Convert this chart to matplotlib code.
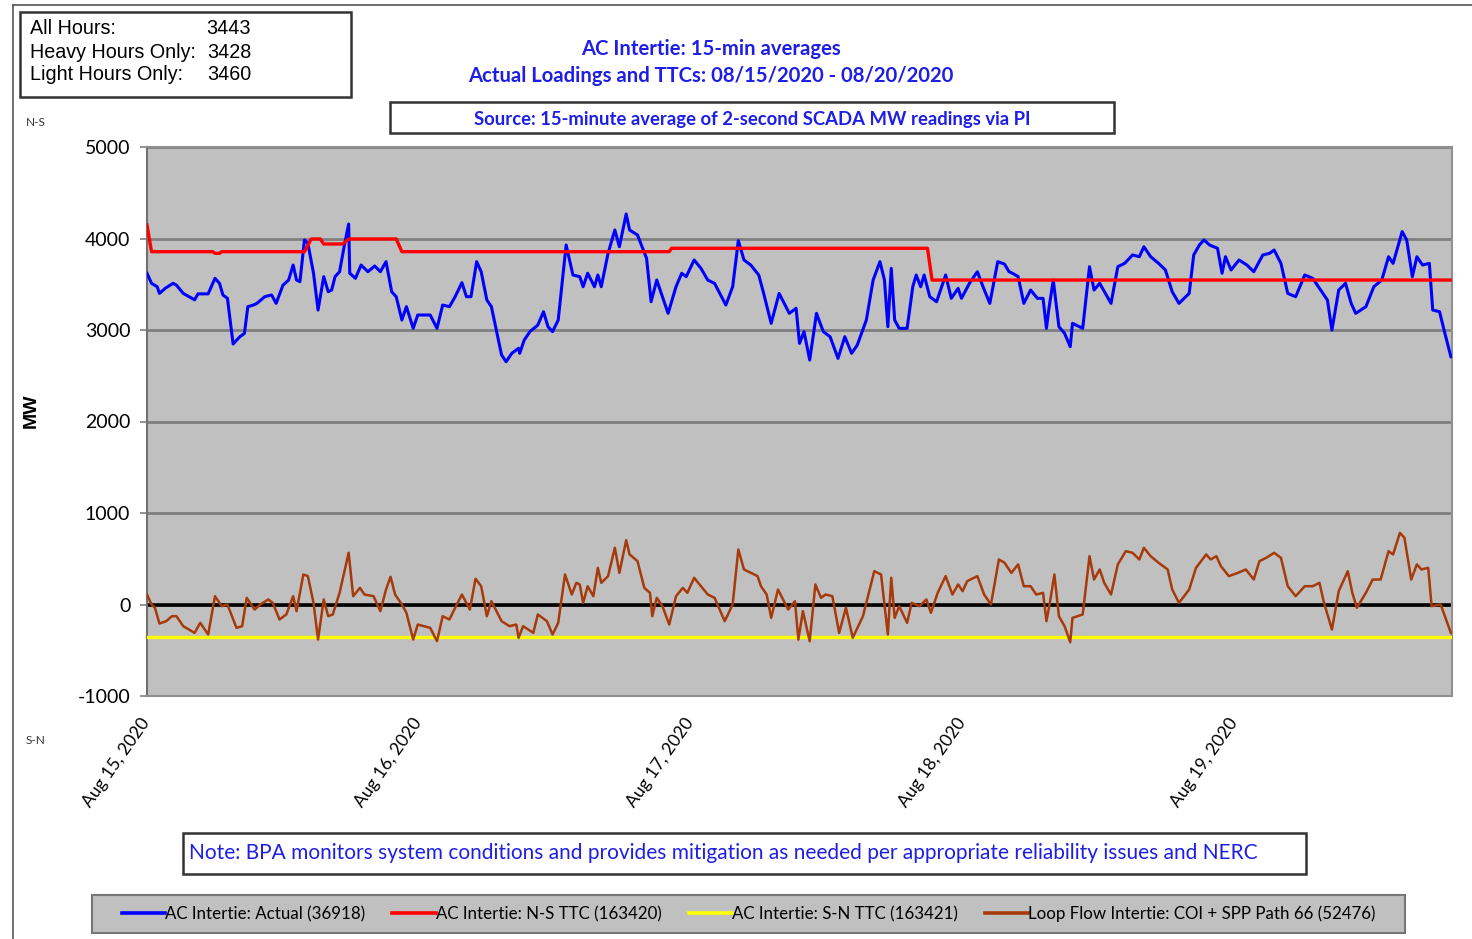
import matplotlib
matplotlib.use("Agg")
import matplotlib.pyplot as plt
import matplotlib.transforms as mtransforms
from matplotlib.lines import Line2D
from matplotlib.patches import Rectangle
import numpy as np

W, H = 1472, 939

# hours since Aug 15 2020 00:00
actual_hours = [0.0, 0.4, 0.9, 1.1, 1.6, 2.3, 2.6, 3.2, 4.2, 4.5, 5.4, 6.0, 6.4, 6.7, 7.1, 7.6, 8.2, 8.6, 8.9, 9.4,
                9.7, 10.4, 11.0, 11.4, 12.0, 12.5, 12.9, 13.2, 13.5, 13.9, 14.2, 14.7, 15.1, 15.6, 16.0, 16.3, 16.6,
                17.0, 17.4, 17.8, 17.9, 18.4, 18.9, 19.5, 20.1, 20.6, 21.1, 21.6, 22.0, 22.5, 22.9, 23.5, 23.9, 25.0,
                25.6, 26.1, 26.7, 27.2, 27.8, 28.2, 28.6, 29.1, 29.5, 30.0, 30.4, 31.3, 31.7, 32.2, 32.8, 32.9, 33.3,
                33.8, 34.5, 35.0, 35.4, 35.8, 36.3, 37.0, 37.6, 38.2, 38.5, 38.9, 39.5, 39.8, 40.1, 40.7, 41.3, 41.7,
                42.3, 42.6, 43.3, 44.1, 44.5, 45.0, 46.0, 46.7, 47.2, 47.6, 48.3, 48.9, 49.5, 50.1, 51.1, 51.7, 52.2,
                52.7, 53.3, 54.0, 54.4, 55.1, 55.8, 56.7, 57.3, 57.6, 58.0, 58.5, 59.1, 59.7, 60.3, 61.0, 61.6, 62.2,
                62.7, 63.5, 64.1, 64.7, 65.1, 65.4, 65.7, 66.0, 66.4, 67.1, 67.6, 67.9, 68.3, 68.6, 69.1, 69.7, 70.5,
                71.0, 71.6, 71.9, 72.6, 73.3, 73.8, 74.4, 75.1, 75.7, 76.1, 76.4, 76.9, 77.4, 78.0, 78.6, 79.1, 79.4,
                79.6, 80.0, 80.5, 81.0, 81.5, 81.7, 82.6, 83.2, 83.6, 84.1, 85.1, 85.7, 86.3, 87.0, 87.6, 88.0, 88.6,
                89.3, 89.9, 90.5, 91.1, 92.0, 92.4, 92.9, 93.3, 93.8, 94.5, 94.9, 95.2, 95.7, 96.4, 97.1, 97.7, 98.5,
                99.1, 99.5, 100.1, 100.7, 101.4, 102.2, 102.9, 103.6, 104.2, 104.6, 105.2, 105.8, 106.3, 106.7, 107.6,
                108.3, 109.0, 109.6, 110.0, 110.8, 111.2, 111.7, 112.1, 112.6, 113.2, 113.5, 114.1, 114.5, 115.1]
actual_mw = [3620, 3510, 3473, 3400, 3455, 3510, 3490, 3400, 3330, 3395, 3395, 3565, 3510, 3383, 3346, 2847, 2927, 2963,
             3255, 3273, 3291, 3364, 3383, 3291, 3490, 3546, 3710, 3546, 3528, 3984, 3947, 3620, 3218, 3583, 3418, 3437,
             3583, 3637, 3910, 4158, 3620, 3565, 3710, 3637, 3700, 3637, 3747, 3418, 3364, 3109, 3255, 3018, 3164, 3164,
             3018, 3273, 3255, 3364, 3517, 3364, 3364, 3747, 3637, 3328, 3255, 2727, 2653, 2745, 2800, 2745, 2890, 2982,
             3054, 3200, 3036, 2982, 3109, 3929, 3601, 3583, 3473, 3620, 3473, 3601, 3473, 3838, 4093, 3910, 4268, 4093,
             4038, 3783, 3309, 3546, 3182, 3473, 3620, 3583, 3765, 3674, 3546, 3510, 3273, 3473, 3976, 3765, 3710, 3601,
             3418, 3073, 3400, 3182, 3237, 2854, 2982, 2672, 3182, 2982, 2927, 2690, 2927, 2745, 2836, 3109, 3546, 3747,
             3546, 3036, 3674, 3109, 3018, 3018, 3473, 3601, 3473, 3601, 3364, 3309, 3601, 3346, 3455, 3346, 3510, 3637,
             3473, 3291, 3747, 3720, 3637, 3620, 3583, 3291, 3437, 3346, 3346, 3018, 3218, 3546, 3036, 2963, 2818, 3073,
             3018, 3692, 3437, 3510, 3291, 3692, 3728, 3820, 3801, 3910, 3801, 3728, 3656, 3418, 3291, 3400, 3820, 3929,
             3984, 3929, 3893, 3620, 3801, 3656, 3765, 3710, 3637, 3820, 3838, 3874, 3728, 3400, 3364, 3601, 3565, 3437,
             3328, 2999, 3437, 3510, 3291, 3182, 3255, 3473, 3546, 3801, 3728, 4075, 3984, 3583, 3801, 3710, 3728, 3218,
             3200, 2999, 2709]

ns_ttc_hours = [0.0, 0.4, 5.8, 6.0, 6.4, 6.6, 13.9, 14.5, 15.3, 15.6, 17.3, 17.8, 22.0, 22.5, 46.1, 46.3, 68.9, 69.3, 115.1]
ns_ttc_mw = [4147, 3856, 3856, 3838, 3838, 3856, 3856, 3995, 3995, 3940, 3940, 3995, 3995, 3856, 3856, 3893, 3893, 3546, 3546]

sn_ttc_hours = [0.0, 115.1]
sn_ttc_mw = [-350, -350]

loop_hours = [0.0, 0.4, 0.7, 1.1, 1.7, 2.2, 2.6, 3.2, 4.2, 4.7, 5.4, 6.0, 6.6, 7.1, 7.9, 8.4, 8.8, 9.5, 10.0, 10.7, 11.1,
              11.7, 12.3, 12.9, 13.2, 13.8, 14.2, 14.7, 15.1, 15.6, 16.0, 16.4, 17.0, 17.8, 18.2, 18.8, 19.2, 20.0, 20.6,
              21.1, 21.5, 21.9, 22.5, 22.9, 23.5, 23.9, 25.0, 25.6, 26.1, 26.7, 27.2, 27.8, 28.5, 29.0, 29.5, 30.0, 30.4,
              31.3, 32.0, 32.6, 32.8, 33.2, 34.1, 34.5, 35.3, 35.8, 36.3, 36.9, 37.5, 37.9, 38.2, 38.5, 38.9, 39.4, 39.8,
              40.1, 40.7, 41.3, 41.7, 42.3, 42.6, 43.3, 43.9, 44.4, 44.6, 45.0, 45.5, 46.1, 46.7, 47.3, 47.7, 48.3, 48.9,
              49.5, 50.1, 51.0, 51.7, 52.2, 52.7, 53.3, 53.9, 54.2, 54.7, 55.1, 55.7, 56.6, 57.2, 57.5, 57.9, 58.5, 59.0,
              59.5, 59.9, 60.5, 61.1, 61.7, 62.3, 63.2, 64.2, 64.8, 65.4, 65.7, 66.0, 66.4, 67.1, 67.5, 68.2, 68.8, 69.2,
              69.8, 70.5, 71.1, 71.6, 72.0, 72.4, 73.3, 73.9, 74.5, 75.2, 75.7, 76.3, 76.9, 77.4, 78.0, 78.5, 79.1, 79.4,
              79.7, 80.1, 80.5, 81.0, 81.5, 81.7, 82.6, 83.2, 83.6, 84.1, 84.5, 85.1, 85.7, 86.4, 87.0, 87.6, 88.0, 88.6,
              89.3, 90.1, 90.5, 91.1, 92.0, 92.6, 93.5, 93.9, 94.4, 94.8, 95.5, 96.3, 97.0, 97.7, 98.2, 98.8, 99.5, 100.1,
              100.7, 101.4, 102.2, 102.9, 103.5, 103.9, 104.6, 105.2, 106.0, 106.4, 106.8, 107.6, 108.2, 108.9, 109.6,
              110.0, 110.6, 111.0, 111.6, 112.1, 112.5, 113.1, 113.4, 114.2, 115.1]
loop_mw = [109, 0, -36, -208, -182, -128, -128, -237, -310, -200, -328, 91, -18, 0, -255, -237, 73, -55, 0, 55, 18,
           -164, -109, 91, -73, 328, 310, 18, -383, 55, -128, -109, 128, 565, 91, 182, 109, 91, -73, 164, 303, 109, 0,
           -91, -383, -219, -255, -401, -128, -164, -36, 109, -55, 281, 200, -128, 36, -182, -237, -219, -364, -237,
           -310, -109, -182, -328, -200, 328, 109, 237, 219, 18, 200, 91, 401, 237, 310, 620, 346, 703, 547, 474, 182,
           128, -128, 73, -18, -219, 91, 182, 128, 292, 200, 109, 73, -182, 0, 601, 383, 346, 310, 200, 109, -146, 164,
           -55, 36, -383, -73, -401, 219, 73, 109, 91, -310, -36, -364, -128, 364, 328, -328, 292, -146, -18, -200, 18,
           -18, 55, -91, 128, 310, 109, 219, 146, 255, 310, 109, 0, 492, 456, 346, 438, 200, 200, 109, 128, -182, 18,
           328, -128, -237, -412, -146, -109, 528, 273, 383, 237, 109, 438, 583, 565, 492, 620, 528, 456, 383, 164, 18,
           164, 401, 547, 492, 528, 419, 310, 346, 383, 273, 474, 510, 565, 510, 200, 91, 200, 200, 237, 18, -273, 146,
           364, 128, -36, 128, 273, 273, 583, 547, 783, 729, 273, 438, 383, 401, -18, 0, -310]

day_ticks = [0, 24, 48, 72, 96]
day_labels = ["Aug 15, 2020", "Aug 16, 2020", "Aug 17, 2020", "Aug 18, 2020", "Aug 19, 2020"]
y_ticks = [-1000, 0, 1000, 2000, 3000, 4000, 5000]

legend_labels = ["AC Intertie: Actual (36918)", "AC Intertie: N-S TTC (163420)",
                 "AC Intertie: S-N TTC (163421)", "Loop Flow Intertie: COI + SPP Path 66 (52476)"]
stat_labels = ["All Hours:", "Heavy Hours Only:", "Light Hours Only:"]
stat_values = ["3443", "3428", "3460"]

BLUE, RED, YELLOW, BROWN = "#0000FF", "#FF0000", "#FFFF00", "#A63A0A"
TXT_BLUE = "#1E1EE6"
CAL = ["Lato", "DejaVu Sans"]
ARIAL = ["Liberation Sans", "DejaVu Sans"]


def fx(px):
    return px / W


def fy(py):
    return 1 - py / H


fig = plt.figure(figsize=(W / 100, H / 100), dpi=100)
fig.patch.set_facecolor("white")

ax = fig.add_axes([fx(147), fy(696), fx(1452) - fx(147), fy(147) - fy(696)])
ax.set_facecolor("#C0C0C0")
ax.set_xlim(0, 115.2)
ax.set_ylim(-1000, 5000)
ax.set_yticks(y_ticks)
ax.set_yticklabels([str(v) for v in y_ticks], fontfamily=CAL, fontsize=14)
ax.set_xticks(day_ticks)
ax.set_xticklabels(day_labels, rotation=55, ha="right", va="top", fontfamily=CAL, fontsize=12.6)
ax.tick_params(axis="x", length=0, pad=14)
ax.tick_params(axis="y", length=5, width=1.2, color="#808080", direction="out", pad=7)
# nudge the slanted date labels a few pixels right, as in the original
shift = mtransforms.ScaledTranslation(6 / 100, 0, fig.dpi_scale_trans)
for lbl in ax.get_xticklabels():
    lbl.set_transform(lbl.get_transform() + shift)
ax.grid(axis="y", color="#7f7f7f", lw=2)
ax.set_axisbelow(True)
for side in ["top", "right", "bottom"]:
    ax.spines[side].set_color("#909090")
    ax.spines[side].set_linewidth(1.5)
ax.spines["left"].set_color("#707070")
ax.spines["left"].set_linewidth(1.5)

ax.axhline(0, color="black", lw=2.6, zorder=2)
ax.plot(sn_ttc_hours, sn_ttc_mw, color=YELLOW, lw=2.4, zorder=3)
ax.plot(loop_hours, loop_mw, color=BROWN, lw=1.8, zorder=4)
ax.plot(actual_hours, actual_mw, color=BLUE, lw=2.2, zorder=5)
ax.plot(ns_ttc_hours, ns_ttc_mw, color=RED, lw=2.4, zorder=6)

ax.set_ylabel("MW", fontfamily=ARIAL, fontsize=14, fontweight="bold")
ax.yaxis.set_label_coords((40 - 147) / 1305, 0.52)

# outer frame
fig.add_artist(Line2D([fx(13), fx(13)], [fy(5), fy(939)], color="#555555", lw=1.2))
fig.add_artist(Line2D([fx(13), fx(1472)], [fy(5), fy(5)], color="#555555", lw=1.2))

# stats box
fig.add_artist(Rectangle((fx(20), fy(97)), fx(351) - fx(20), fy(12) - fy(97), fill=False,
                         ec="#333333", lw=1.8))
for i, (lab, val) in enumerate(zip(stat_labels, stat_values)):
    yy = fy(29 + 23 * i)
    fig.text(fx(30), yy, lab, fontfamily=ARIAL, fontsize=14.2, va="center", ha="left")
    fig.text(fx(251), yy, val, fontfamily=ARIAL, fontsize=14.2, va="center", ha="right")

# titles
fig.text(fx(711), fy(49), "AC Intertie: 15-min averages", color=TXT_BLUE, fontfamily=CAL,
         fontsize=14.6, fontweight="bold", ha="center", va="center")
fig.text(fx(711), fy(76), "Actual Loadings and TTCs: 08/15/2020 - 08/20/2020", color=TXT_BLUE,
         fontfamily=CAL, fontsize=14.6, fontweight="bold", ha="center", va="center")
fig.add_artist(Rectangle((fx(390), fy(133)), fx(1114) - fx(390), fy(102) - fy(133), fill=False,
                         ec="#333333", lw=1.8))
fig.text(fx(752), fy(119), "Source: 15-minute average of 2-second SCADA MW readings via PI", color=TXT_BLUE,
         fontfamily=CAL, fontsize=13.3, fontweight="bold", ha="center", va="center")

fig.text(fx(36), fy(123), "N-S", fontfamily=CAL, fontsize=8.5, ha="center", va="center", color="#333333")
fig.text(fx(36), fy(740), "S-N", fontfamily=CAL, fontsize=8.5, ha="center", va="center", color="#333333")

# note box
fig.add_artist(Rectangle((fx(183), fy(874)), fx(1306) - fx(183), fy(833) - fy(874), fill=False,
                         ec="#333333", lw=1.8))
fig.text(fx(189), fy(853), "Note: BPA monitors system conditions and provides mitigation as needed per appropriate "
         "reliability issues and NERC", color=TXT_BLUE, fontfamily=CAL, fontsize=15, ha="left", va="center")

# legend: grey frame drawn separately, entries packed from the left like the original
fig.add_artist(Rectangle((fx(92), fy(933)), fx(1405) - fx(92), fy(895) - fy(933), fc="#C0C0C0",
                         ec="#777777", lw=1.5, zorder=0))
handles = [Line2D([], [], color=c, lw=2.6) for c in [BLUE, RED, YELLOW, BROWN]]
leg = fig.legend(handles, legend_labels, loc="center left", ncol=4,
                 bbox_to_anchor=(fx(122), fy(914)),
                 prop={"family": CAL, "size": 12.2}, handlelength=2.55, handletextpad=0.0,
                 columnspacing=1.6, borderaxespad=0, borderpad=0, frameon=False)

fig.savefig("out.png", dpi=100)
